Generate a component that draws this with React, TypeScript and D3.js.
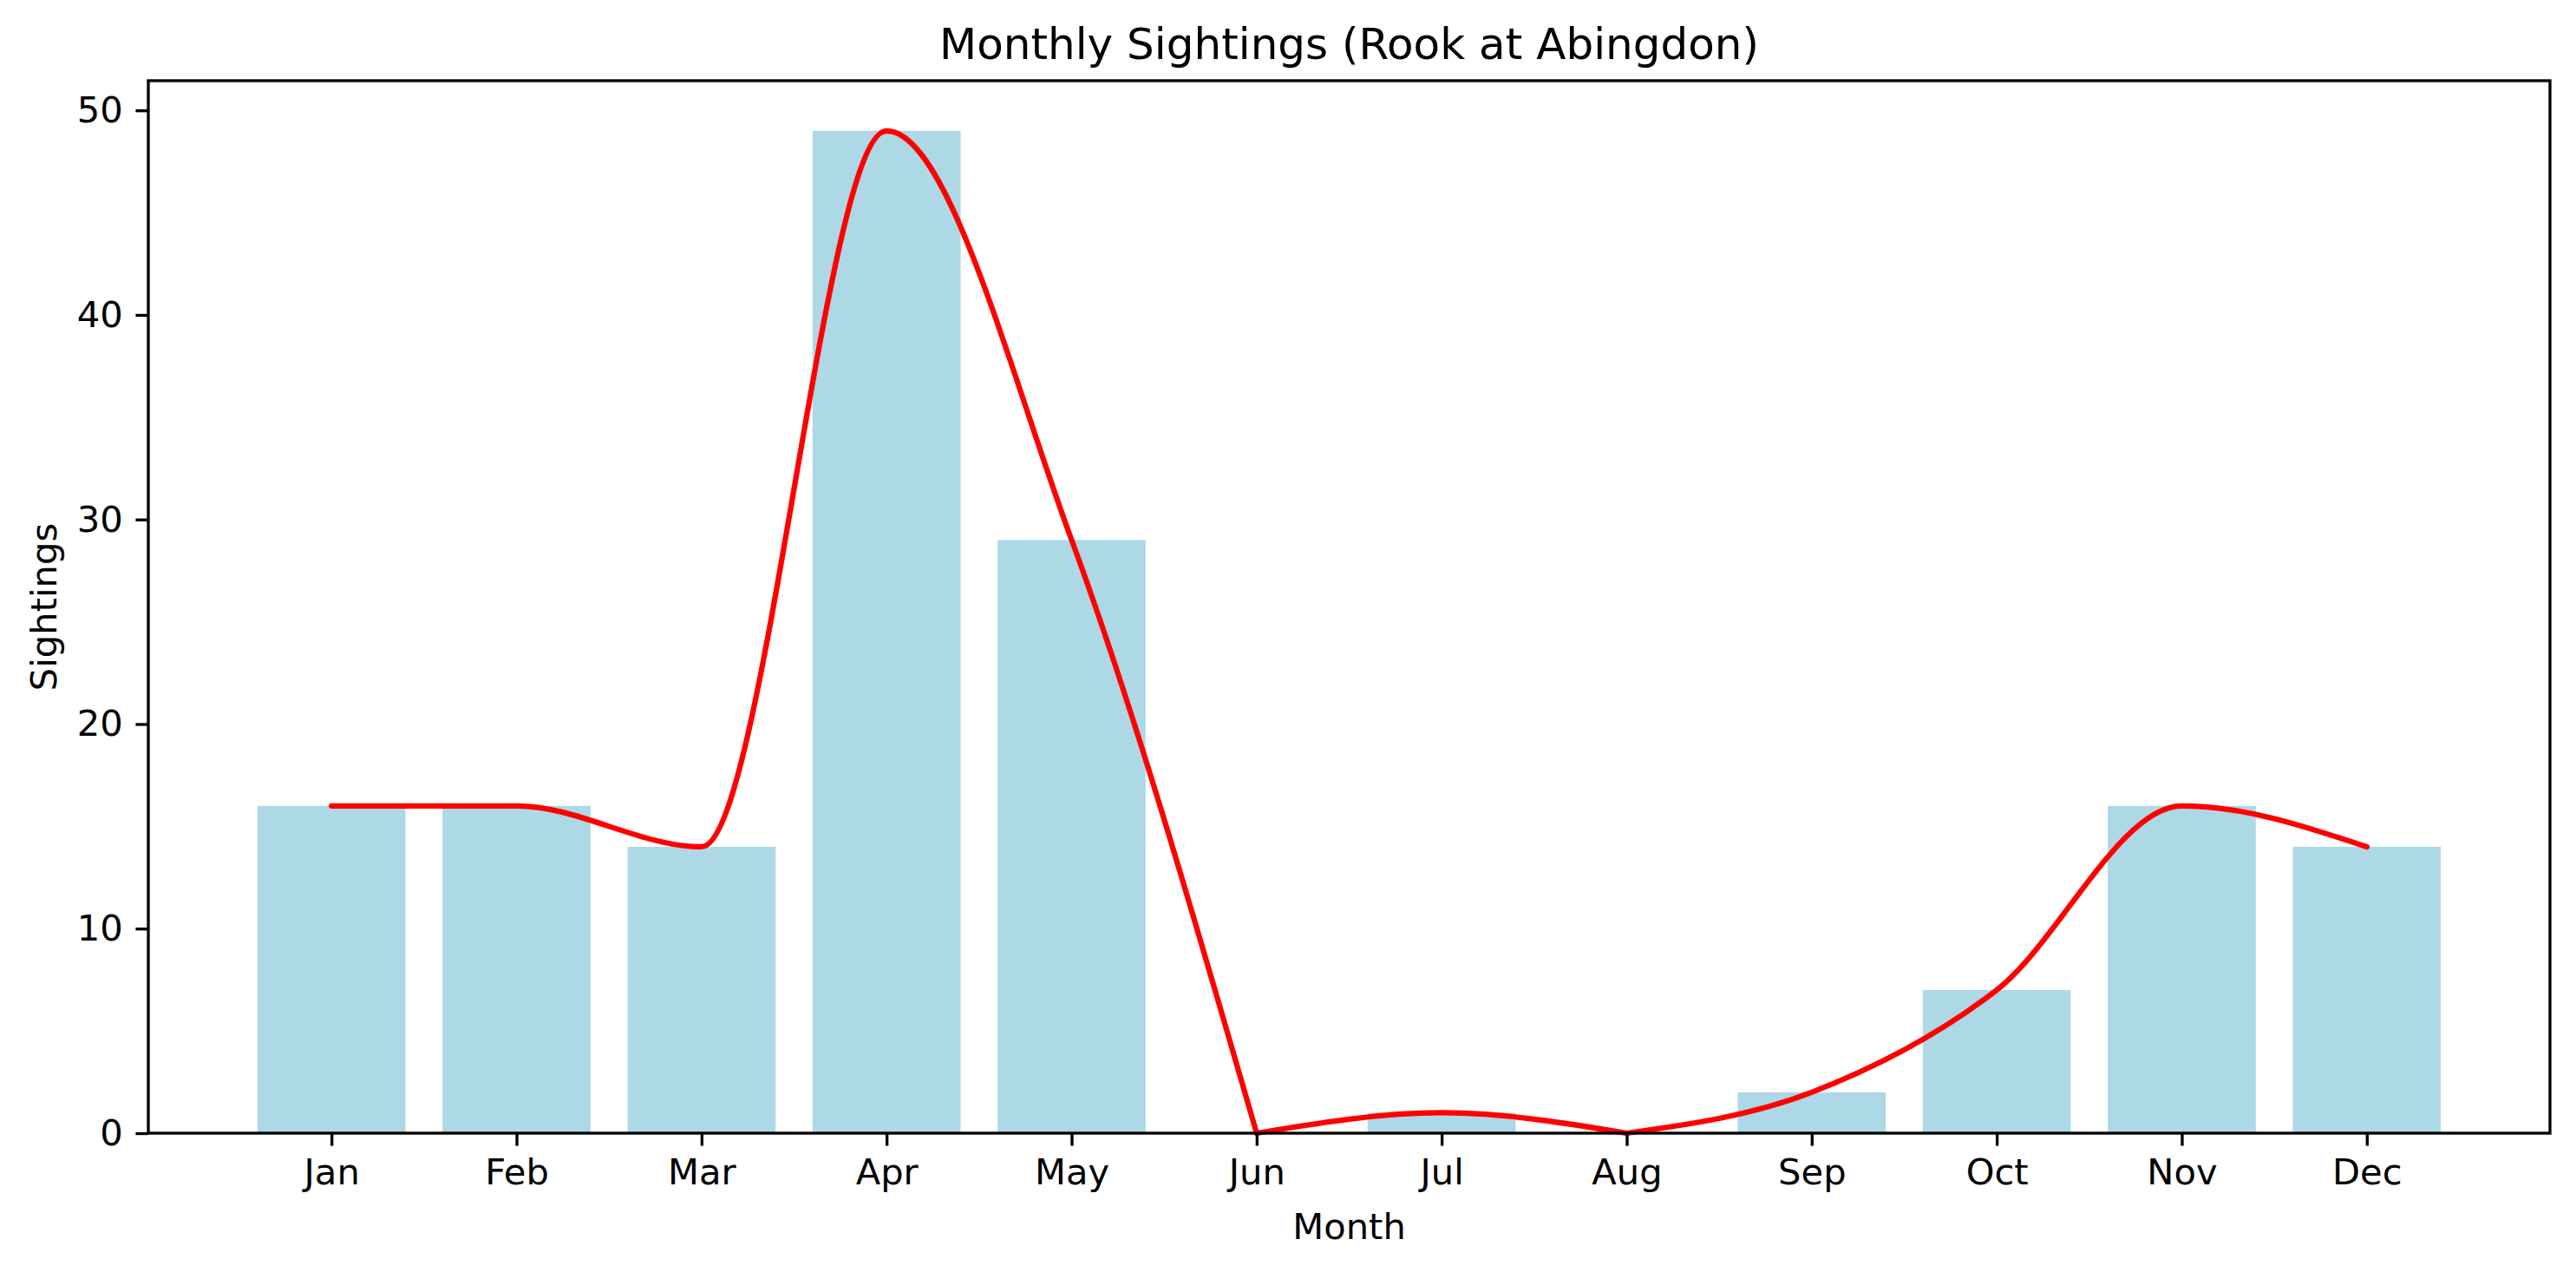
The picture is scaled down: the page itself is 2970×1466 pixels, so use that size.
import React, { useRef, useEffect } from 'react';
import * as d3 from 'd3';

// Monthly sightings data
const MONTHS = ['Jan', 'Feb', 'Mar', 'Apr', 'May', 'Jun', 'Jul', 'Aug', 'Sep', 'Oct', 'Nov', 'Dec'];
const SIGHTINGS = [16, 16, 14, 49, 29, 0, 1, 0, 2, 7, 16, 14];
const Y_TICKS = [0, 10, 20, 30, 40, 50];

const WIDTH = 2970;
const HEIGHT = 1466;
const BAR_COLOR = '#ADD8E6'; // lightblue
const LINE_COLOR = '#FF0000';
const FONT = '"DejaVu Sans", Verdana, sans-serif';
const PT = 300 / 72; // figure rendered at 300 dpi

export default function App() {
  const svgRef = useRef<SVGSVGElement>(null);

  useEffect(() => {
    const svg = d3.select(svgRef.current);
    svg.selectAll('*').remove();

    const margin = { top: 93, right: WIDTH - 2940, bottom: HEIGHT - 1306, left: 171 };
    const innerWidth = WIDTH - margin.left - margin.right;
    const innerHeight = HEIGHT - margin.top - margin.bottom;

    svg.append('rect').attr('width', WIDTH).attr('height', HEIGHT).attr('fill', 'white');

    const g = svg.append('g')
      .attr('transform', `translate(${margin.left},${margin.top})`);

    // bars span -0.4..11.4, matplotlib adds 5% margins
    const span = MONTHS.length - 1 + 0.8;
    const pad = span * 0.05;
    const xScale = d3.scaleLinear()
      .domain([-0.4 - pad, MONTHS.length - 1 + 0.4 + pad])
      .range([0, innerWidth]);

    const yMax = d3.max(SIGHTINGS) || 0;
    const yScale = d3.scaleLinear()
      .domain([0, yMax * 1.05])
      .range([innerHeight, 0]);

    // Bars
    const barW = xScale(0.8) - xScale(0);
    g.selectAll('.bar')
      .data(SIGHTINGS)
      .enter()
      .append('rect')
      .attr('class', 'bar')
      .attr('x', (d, i) => xScale(i - 0.4))
      .attr('y', d => yScale(d))
      .attr('width', barW)
      .attr('height', d => innerHeight - yScale(d))
      .attr('fill', BAR_COLOR);

    // Smoothed line: monotone cubic, restarted at each zero month
    const points = SIGHTINGS.map((v, i) => [i, v] as [number, number]);
    const pieces: [number, number][][] = [];
    let current: [number, number][] = [];
    points.forEach((p, i) => {
      current.push(p);
      if (p[1] === 0 && i > 0 && i < points.length - 1) {
        pieces.push(current);
        current = [p];
      }
    });
    pieces.push(current);

    const line = d3.line<[number, number]>()
      .x(d => xScale(d[0]))
      .y(d => yScale(d[1]))
      .curve(d3.curveMonotoneX);

    g.selectAll('.trend')
      .data(pieces)
      .enter()
      .append('path')
      .attr('class', 'trend')
      .attr('d', d => line(d))
      .attr('fill', 'none')
      .attr('stroke', LINE_COLOR)
      .attr('stroke-width', 1.5 * PT)
      .attr('stroke-linejoin', 'round')
      .attr('stroke-linecap', 'round');

    // Axes
    const tickLen = 3.5 * PT;
    const tickPad = 3.5 * PT;
    const fontSize = 10 * PT;

    const xAxis = d3.axisBottom(xScale)
      .tickValues(d3.range(MONTHS.length))
      .tickFormat(d => MONTHS[d as number])
      .tickSize(tickLen)
      .tickPadding(tickPad);

    const yAxis = d3.axisLeft(yScale)
      .tickValues(Y_TICKS)
      .tickFormat(d => String(d))
      .tickSize(tickLen)
      .tickPadding(tickPad);

    const xg = g.append('g')
      .attr('transform', `translate(0,${innerHeight})`)
      .call(xAxis);
    const yg = g.append('g').call(yAxis);

    [xg, yg].forEach(ax => {
      ax.select('.domain').remove();
      ax.selectAll('line').attr('stroke', '#000').attr('stroke-width', 0.8 * PT);
      ax.selectAll('text')
        .style('font-family', FONT)
        .style('font-size', `${fontSize}px`)
        .style('fill', '#000');
    });

    // Spines
    g.append('rect')
      .attr('width', innerWidth)
      .attr('height', innerHeight)
      .attr('fill', 'none')
      .attr('stroke', '#000')
      .attr('stroke-width', 0.8 * PT);

    // Axis labels
    g.append('text')
      .attr('x', innerWidth / 2)
      .attr('y', innerHeight + 1428 - 1306)
      .attr('text-anchor', 'middle')
      .style('font-family', FONT)
      .style('font-size', `${fontSize}px`)
      .text('Month');

    g.append('text')
      .attr('transform', `translate(${65 - margin.left},${innerHeight / 2}) rotate(-90)`)
      .attr('text-anchor', 'middle')
      .style('font-family', FONT)
      .style('font-size', `${fontSize}px`)
      .text('Sightings');

    // Title
    g.append('text')
      .attr('x', innerWidth / 2)
      .attr('y', -6 * PT)
      .attr('text-anchor', 'middle')
      .style('font-family', FONT)
      .style('font-size', `${12 * PT}px`)
      .text('Monthly Sightings (Rook at Abingdon)');
  }, []);

  return (
    <div style={{ position: 'absolute', left: 0, top: 0 }}>
      <svg ref={svgRef} width={WIDTH} height={HEIGHT} style={{ display: 'block' }} />
    </div>
  );
}
